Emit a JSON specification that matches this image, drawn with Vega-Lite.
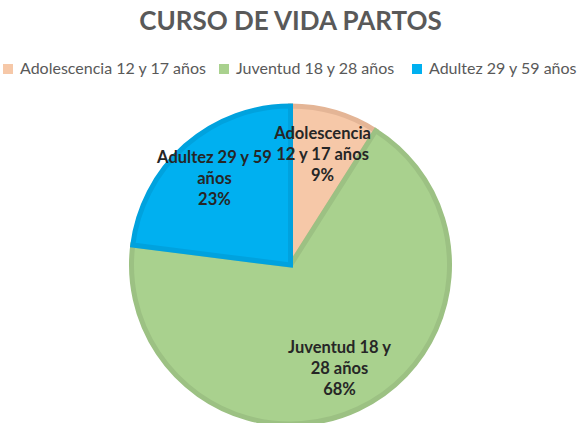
{
  "$schema": "https://vega.github.io/schema/vega-lite/v6.json",
  "width": 581,
  "height": 316,
  "autosize": {"type": "none"},
  "padding": {"top": 107, "left": 0, "right": 0, "bottom": 0},
  "background": "white",
  "title": {"text": "CURSO DE VIDA PARTOS", "font": "Lato", "fontSize": 26, "fontWeight": "bold", "color": "#595959", "anchor": "middle", "offset": 26},
  "data": {"values": [
    {"categoria": "Adolescencia 12 y 17 años", "valor": 9, "orden": 1, "etiqueta": "Adolescencia\n12 y 17 años\n9%"},
    {"categoria": "Juventud  18 y 28 años", "valor": 68, "orden": 2, "etiqueta": "Juventud  18 y\n28 años\n68%"},
    {"categoria": "Adultez 29 y 59 años", "valor": 23, "orden": 3, "etiqueta": "Adultez 29 y 59\naños\n23%"}
  ]},
  "encoding": {
    "theta": {"field": "valor", "type": "quantitative", "stack": true},
    "order": {"field": "orden", "type": "quantitative"}
  },
  "layer": [
    {
      "mark": {"type": "arc", "outerRadius": 159, "strokeWidth": 5},
      "encoding": {
        "color": {"field": "categoria", "type": "nominal",
          "scale": {"domain": ["Adolescencia 12 y 17 años", "Juventud  18 y 28 años", "Adultez 29 y 59 años"], "range": ["#F6C8A8", "#A9D18E", "#00B0F0"]},
          "legend": {"orient": "top", "direction": "horizontal", "title": null, "symbolType": "square", "symbolSize": 100, "symbolStrokeWidth": 0, "labelFont": "Lato", "labelFontSize": 16, "labelColor": "#595959", "labelLimit": 0, "columnPadding": 9, "labelOffset": 4, "offset": 30}},
        "stroke": {"field": "categoria", "type": "nominal",
          "scale": {"domain": ["Adolescencia 12 y 17 años", "Juventud  18 y 28 años", "Adultez 29 y 59 años"], "range": ["#E4B596", "#9CC183", "#00A2DE"]},
          "legend": null}
      }
    },
    {
      "mark": {"type": "text", "radius": 115, "dy": -21, "font": "Lato", "fontSize": 16.5, "fontWeight": "bold", "lineBreak": "\n", "lineHeight": 21, "color": "#262626"},
      "encoding": {"text": {"field": "etiqueta", "type": "nominal"}}
    }
  ],
  "config": {"view": {"stroke": null}}
}
